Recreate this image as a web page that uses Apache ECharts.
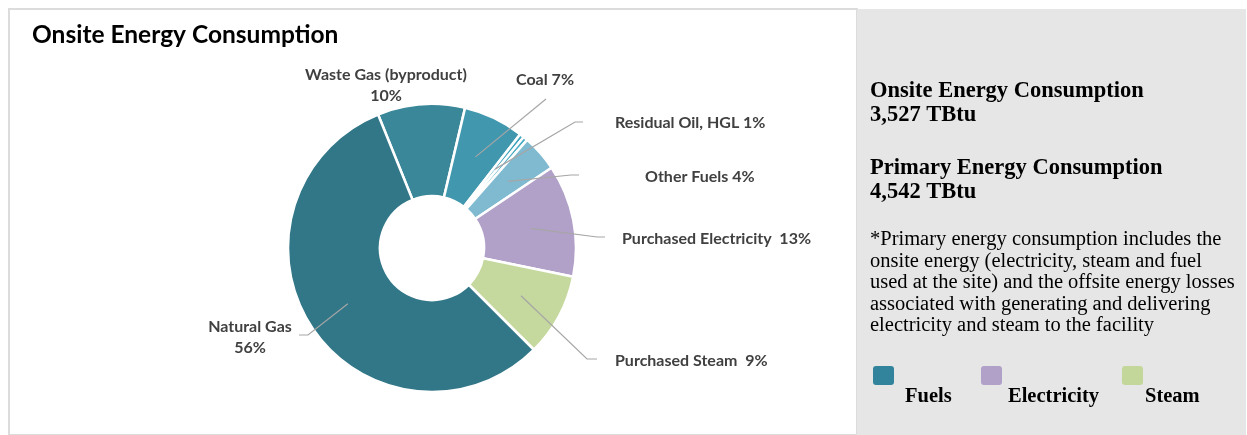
<!DOCTYPE html>
<html>
<head>
<meta charset="utf-8">
<script src="https://cdn.jsdelivr.net/npm/echarts@6/dist/echarts.min.js"></script>
<style>
  html, body { margin: 0; padding: 0; background: #ffffff; }
  #chart { width: 1247px; height: 435px; }
</style>
</head>
<body>
<div id="chart"></div>
<script>
// Onsite energy consumption by source, share of total (%)
const categories = ['Waste Gas (byproduct)', 'Coal', 'Residual Oil', 'HGL', 'Other Fuels',
                    'Purchased Electricity', 'Purchased Steam', 'Natural Gas'];
const shares = [9.8, 6.8, 0.5, 0.5, 4.1, 12.6, 9.3, 56.4];

// Summary panel
const summaryTitles = ['Onsite Energy Consumption', 'Primary Energy Consumption'];
const summaryValues = ['3,527 TBtu', '4,542 TBtu'];
const noteLines = [
  '*Primary energy consumption includes the',
  'onsite energy (electricity, steam and fuel',
  'used at the site) and the offsite energy losses',
  'associated with generating and delivering',
  'electricity and steam to the facility'
];
const legendNames = ['Fuels', 'Electricity', 'Steam'];

// Styling
const sliceColors = ['#3a8799', '#4197ae', '#3ea3bd', '#49abc4', '#7fbad0', '#b1a1c8', '#c5d89e', '#317788'];
const legendColors = ['#31849b', '#b1a0c7', '#c4d79b'];

// Label text: '{p}' is replaced by the rounded share; some labels cover several slices
const labelText = {
  'Waste Gas (byproduct)': { text: 'Waste Gas (byproduct)\n{p}%' },
  'Coal': { text: 'Coal {p}%' },
  'Residual Oil': { text: 'Residual Oil, HGL {p}%', group: ['Residual Oil', 'HGL'] },
  'Other Fuels': { text: 'Other Fuels {p}%' },
  'Purchased Electricity': { text: 'Purchased Electricity  {p}%' },
  'Purchased Steam': { text: 'Purchased Steam  {p}%' },
  'Natural Gas': { text: 'Natural Gas\n{p}%' }
};

// Where each label sits and how its leader line bends
const labelPlacement = {
  'Waste Gas (byproduct)': { x: 386, y: 85, align: 'center' },
  'Coal': { x: 545, y: 80, align: 'center', bend: [[546, 99]] },
  'Residual Oil': { x: 615, y: 123, align: 'left', bend: [[575, 122], [583, 122]] },
  'Other Fuels': { x: 645, y: 177, align: 'left', bend: [[571, 175], [579, 175]] },
  'Purchased Electricity': { x: 622, y: 239, align: 'left', bend: [[597, 237], [605, 237]] },
  'Purchased Steam': { x: 615, y: 361, align: 'left', bend: [[587, 359], [597, 359]] },
  'Natural Gas': { x: 250, y: 337, align: 'center', bend: [[308, 335], [299, 335]] }
};

const total = shares.reduce((a, b) => a + b, 0);
const shareOf = name => shares[categories.indexOf(name)];

const ringData = categories.map((name, i) => ({
  name, value: shares[i], itemStyle: { color: sliceColors[i] }
}));

const labelData = categories.map((name, i) => {
  const place = labelPlacement[name];
  return {
    name, value: shares[i],
    label: { show: !!labelText[name] },
    labelLine: { show: !!(place && place.bend) }
  };
});

const PIE_CENTER = [432, 248];

const chart = echarts.init(document.getElementById('chart'), null, { renderer: 'canvas' });

const serifBold = 'bold 22.5px "Liberation Serif", serif';
const graphics = [
  // card backgrounds
  { type: 'rect', z: -10, silent: true,
    shape: { x: 9, y: 9, width: 848, height: 426 },
    style: { fill: '#ffffff', stroke: '#dcdcdc', lineWidth: 2 } },
  { type: 'rect', z: -10, silent: true,
    shape: { x: 857, y: 9, width: 389, height: 426 },
    style: { fill: '#e6e6e6' } },
  // summary figures
  { type: 'text', silent: true,
    style: { x: 870, y: 79, text: summaryTitles[0] + '\n' + summaryValues[0],
      font: serifBold, lineHeight: 24, fill: '#000', verticalAlign: 'top' } },
  { type: 'text', silent: true,
    style: { x: 870, y: 156, text: summaryTitles[1] + '\n' + summaryValues[1],
      font: serifBold, lineHeight: 24, fill: '#000', verticalAlign: 'top' } },
  { type: 'text', silent: true,
    style: { x: 870, y: 229, text: noteLines.join('\n'),
      font: '20.5px "Liberation Serif", serif', lineHeight: 21.5, fill: '#000', verticalAlign: 'top' } }
];

// legend swatches and names
const legendX = [873, 981, 1122];
const legendTextX = [905, 1008, 1145];
legendNames.forEach((name, i) => {
  graphics.push({ type: 'rect', silent: true,
    shape: { x: legendX[i], y: 366, width: 21, height: 19, r: 3 },
    style: { fill: legendColors[i] } });
  graphics.push({ type: 'text', silent: true,
    style: { x: legendTextX[i], y: 397, text: name,
      font: 'bold 20.5px "Liberation Serif", serif', fill: '#000', verticalAlign: 'middle' } });
});

chart.setOption({
  animation: false,
  title: {
    text: 'Onsite Energy Consumption',
    left: 27, top: 18,
    textStyle: { fontFamily: 'Lato', fontWeight: 'bold', fontSize: 24.5, color: '#000' }
  },
  graphic: graphics,
  series: [
    {
      // the ring
      type: 'pie',
      z: 1,
      center: PIE_CENTER,
      radius: [52, 144],
      startAngle: 112,
      clockwise: true,
      silent: true,
      avoidLabelOverlap: false,
      label: { show: false },
      labelLine: { show: false },
      itemStyle: { borderColor: '#ffffff', borderWidth: 2.5 },
      data: ringData
    },
    {
      // transparent copy carrying the data labels; its outer edge sets where leader lines start
      type: 'pie',
      z: 5,
      center: PIE_CENTER,
      radius: [0, 101],
      startAngle: 112,
      clockwise: true,
      silent: true,
      avoidLabelOverlap: false,
      itemStyle: { color: 'rgba(0,0,0,0)', borderWidth: 0 },
      label: {
        position: 'outside',
        fontFamily: 'Lato',
        fontWeight: 'bold',
        fontSize: 16,
        lineHeight: 21,
        color: '#404040',
        formatter: p => {
          const cfg = labelText[p.name];
          if (!cfg) return '';
          const names = cfg.group || [p.name];
          const sum = names.reduce((a, n) => a + shareOf(n), 0);
          return cfg.text.replace('{p}', Math.round(sum / total * 100));
        }
      },
      labelLine: {
        length: 10, length2: 10,
        lineStyle: { color: '#a6a6a6', width: 1.2 }
      },
      labelLayout: params => {
        const place = labelPlacement[categories[params.dataIndex]];
        if (!place) return {};
        const out = { x: place.x, y: place.y, align: place.align, verticalAlign: 'middle' };
        if (place.bend && params.labelLinePoints) {
          out.labelLinePoints = [params.labelLinePoints[0]].concat(place.bend);
        }
        return out;
      },
      data: labelData
    }
  ]
});
</script>
</body>
</html>
